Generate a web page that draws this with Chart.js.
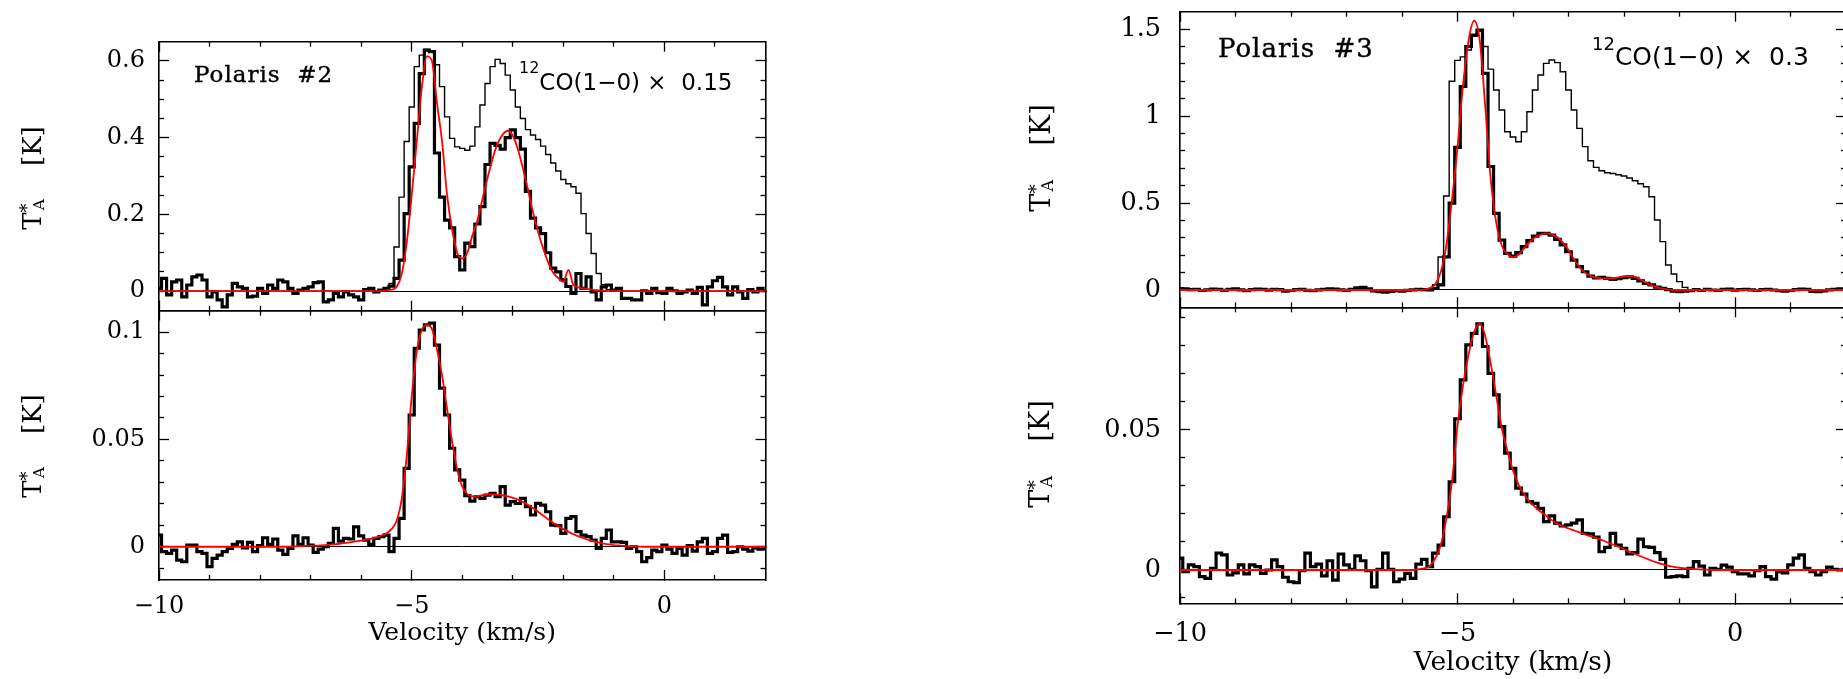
<!DOCTYPE html>
<html>
<head>
<meta charset="utf-8">
<title>Polaris spectra</title>
<script src="https://cdn.jsdelivr.net/npm/chart.js@4.4.1/dist/chart.umd.min.js"></script>
<style>
  html, body { margin: 0; padding: 0; background: #ffffff; overflow: hidden; }
  #page { position: relative; width: 1843px; height: 679px; overflow: hidden; }
  #page canvas { position: absolute; left: 0; top: 0; }
  .note { position: absolute; white-space: pre; line-height: 1; color: #000; }
  .serif { font-family: 'DejaVu Serif', serif; -webkit-text-stroke: 0.4px #000; }
  .sans { font-family: 'DejaVu Sans', sans-serif; }
  .iso { position: relative; }
  .ytitle { position: absolute; white-space: pre; line-height: 1; color: #000;
            font-family: 'DejaVu Serif', serif; transform: translate(-50%, -50%) rotate(-90deg); }
  .ytitle .star { position: relative; top: -0.42em; font-size: 0.7em; }
  .ytitle .sub { position: relative; top: 0.2em; font-size: 0.6em; margin-left: -0.45em; }
</style>
</head>
<body>
<div id="page">
  <canvas id="p2top" width="1850" height="679"></canvas>
  <canvas id="p2low" width="1850" height="679"></canvas>
  <canvas id="p3top" width="1850" height="679"></canvas>
  <canvas id="p3low" width="1850" height="679"></canvas>

  <div class="note serif" style="left:194px;top:63px;font-size:23px;letter-spacing:1px">Polaris  #2</div>
  <div class="note sans" style="left:519px;top:70.5px;font-size:23px"><span class="iso" style="font-size:16px;top:-16.5px">12</span>CO(1−0) ×  0.15</div>
  <div class="note serif" style="left:1218px;top:34.7px;font-size:26px;letter-spacing:1px">Polaris  #3</div>
  <div class="note sans" style="left:1592px;top:43.9px;font-size:25px"><span class="iso" style="font-size:18px;top:-15px">12</span>CO(1−0) ×  0.3</div>

  <div class="ytitle" style="left:32px;top:178px;font-size:26px">T<span class="star">*</span><span class="sub">A</span>    [K]</div>
  <div class="ytitle" style="left:32px;top:446px;font-size:26px">T<span class="star">*</span><span class="sub">A</span>    [K]</div>
  <div class="ytitle" style="left:1040px;top:158px;font-size:27px">T<span class="star">*</span><span class="sub">A</span>    [K]</div>
  <div class="ytitle" style="left:1039px;top:454px;font-size:27px">T<span class="star">*</span><span class="sub">A</span>    [K]</div>
</div>

<script>
// channel velocities (km/s)
const velocity = [
  -10.0, -9.9, -9.8, -9.7, -9.6, -9.5, -9.4, -9.3, -9.2, -9.1,
  -9.0, -8.9, -8.8, -8.7, -8.6, -8.5, -8.4, -8.3, -8.2, -8.1,
  -8.0, -7.9, -7.8, -7.7, -7.6, -7.5, -7.4, -7.3, -7.2, -7.1,
  -7.0, -6.9, -6.8, -6.7, -6.6, -6.5, -6.4, -6.3, -6.2, -6.1,
  -6.0, -5.9, -5.8, -5.7, -5.6, -5.5, -5.4, -5.3, -5.2, -5.1,
  -5.0, -4.9, -4.8, -4.7, -4.6, -4.5, -4.4, -4.3, -4.2, -4.1,
  -4.0, -3.9, -3.8, -3.7, -3.6, -3.5, -3.4, -3.3, -3.2, -3.1,
  -3.0, -2.9, -2.8, -2.7, -2.6, -2.5, -2.4, -2.3, -2.2, -2.1,
  -2.0, -1.9, -1.8, -1.7, -1.6, -1.5, -1.4, -1.3, -1.2, -1.1,
  -1.0, -0.9, -0.8, -0.7, -0.6, -0.5, -0.4, -0.3, -0.2, -0.1,
  0.0, 0.1, 0.2, 0.3, 0.4, 0.5, 0.6, 0.7, 0.8, 0.9,
  1.0, 1.1, 1.2, 1.3, 1.4, 1.5, 1.6, 1.7, 1.8, 1.9,
  2.0
];

// Polaris #2, upper panel
const p2Line = [
  0.007, 0.033, -0.010, 0.024, 0.029, -0.015, 0.016, 0.037, 0.042, 0.029,
  -0.015, -0.002, -0.023, -0.041, -0.010, 0.020, 0.011, 0.007, -0.015, -0.013,
  0.007, -0.006, 0.016, 0.007, 0.029, 0.024, 0.007, -0.006, 0.003, 0.007,
  0.011, 0.022, 0.024, -0.028, -0.023, -0.006, -0.015, -0.002, -0.010, -0.015,
  -0.023, 0.004, 0.007, -0.002, 0.003, 0.007, 0.013, 0.033, 0.081, 0.202,
  0.324, 0.437, 0.567, 0.628, 0.624, 0.360, 0.245, 0.185, 0.165, 0.090,
  0.055, 0.125, 0.116, 0.175, 0.220, 0.330, 0.385, 0.380, 0.370, 0.400,
  0.420, 0.400, 0.370, 0.260, 0.190, 0.165, 0.150, 0.100, 0.060, 0.050,
  0.030, 0.012, -0.006, 0.046, 0.007, 0.037, -0.002, -0.023, 0.011, 0.016,
  0.003, 0.007, -0.019, -0.019, -0.023, -0.023, 0.001, -0.006, 0.007, -0.004,
  -0.006, 0.007, 0.001, -0.006, -0.002, 0.003, -0.006, 0.010, -0.036, 0.011,
  0.027, 0.036, 0.011, -0.010, 0.011, -0.002, -0.019, 0.004, -0.002, 0.007,
  0.001
];
const p2Co = [
  0, 0, 0, 0, 0, 0, 0, 0, 0, 0,
  0, 0, 0, 0, 0, 0, 0, 0, 0, 0,
  0, 0, 0, 0, 0, 0, 0, 0, 0, 0,
  0, 0, 0, 0, 0, 0, 0, 0, 0, 0,
  0, 0, 0, 0, 0, 0.007, 0.020, 0.115, 0.245, 0.390,
  0.480, 0.585, 0.615, 0.630, 0.625, 0.590, 0.533, 0.454, 0.398, 0.376,
  0.372, 0.367, 0.378, 0.428, 0.485, 0.541, 0.585, 0.604, 0.593, 0.563,
  0.524, 0.480, 0.450, 0.421, 0.407, 0.395, 0.378, 0.356, 0.334, 0.313,
  0.291, 0.280, 0.272, 0.255, 0.202, 0.150, 0.098, 0.046, 0.017, 0.004,
  0, 0, 0, 0, 0, 0, 0, 0, 0, 0,
  0, 0, 0, 0, 0, 0, 0, 0, 0, 0,
  0, 0, 0, 0, 0, 0, 0, 0, 0, 0,
  0
];
const p2Fit = [
  0, 0, 0, 0, 0, 0, 0, 0, 0, 0,
  0, 0, 0, 0, 0, 0, 0, 0, 0, 0,
  0, 0, 0, 0, 0, 0, 0, 0, 0, 0,
  0, 0, 0, 0, 0, 0, 0, 0, 0, 0,
  0, 0, 0, 0, 0, 0.002, 0.004, 0.011, 0.043, 0.125,
  0.250, 0.390, 0.530, 0.612, 0.600, 0.490, 0.390, 0.250, 0.160, 0.100,
  0.085, 0.100, 0.145, 0.185, 0.240, 0.295, 0.345, 0.385, 0.408, 0.418,
  0.405, 0.370, 0.320, 0.265, 0.205, 0.155, 0.112, 0.075, 0.048, 0.034,
  0.024, 0.055, 0.016, 0.010, 0.007, 0.005, 0.003, 0.002, 0.001, 0,
  0, 0, 0, 0, 0, 0, 0, 0, 0, 0,
  0, 0, 0, 0, 0, 0, 0, 0, 0, 0,
  0, 0, 0, 0, 0, 0, 0, 0, 0, 0,
  0
];

// Polaris #2, lower panel
const p2Low = [
  0.0054, -0.0023, -0.0031, -0.0016, -0.0062, -0.0070, 0.0008, 0.0008, -0.0023, -0.0031,
  -0.0093, -0.0054, -0.0039, -0.0023, -0.0008, 0.0011, 0.0023, -0.0005, 0.0020, -0.0023,
  0.0005, 0.0042, 0.0011, 0.0036, -0.0016, -0.0036, -0.0008, 0.0051, 0.0011, 0.0042,
  0.0008, -0.0026, -0.0011, 0.0000, 0.0016, 0.0086, 0.0026, 0.0039, 0.0036, 0.0093,
  0.0051, 0.0031, 0.0011, 0.0039, 0.0047, 0.0054, -0.0023, 0.0039, 0.0132, 0.0365,
  0.0614, 0.0925, 0.1010, 0.1034, 0.1042, 0.0940, 0.0739, 0.0614, 0.0459, 0.0358,
  0.0310, 0.0238, 0.0213, 0.0233, 0.0225, 0.0241, 0.0249, 0.0233, 0.0280, 0.0194,
  0.0210, 0.0202, 0.0225, 0.0187, 0.0148, 0.0202, 0.0194, 0.0163, 0.0101, 0.0098,
  0.0062, 0.0132, 0.0140, 0.0070, 0.0054, 0.0047, 0.0031, -0.0008, 0.0039, 0.0078,
  0.0023, 0.0023, 0.0020, -0.0008, 0.0000, -0.0023, -0.0070, -0.0051, -0.0016, -0.0023,
  0.0008, -0.0011, -0.0031, -0.0008, -0.0039, 0.0005, -0.0020, 0.0023, 0.0039, -0.0031,
  -0.0023, 0.0039, 0.0054, -0.0026, -0.0023, 0.0000, -0.0011, -0.0020, -0.0005, -0.0011,
  -0.0008
];
const p2LowFit = [
  0, 0, 0, 0, 0, 0, 0, 0, 0, 0,
  0, 0, 0, 0, 0, 0, 0, 0, 0, 0,
  0, 0, 0, 0, 0, 0, 0.0001, 0.0002, 0.0003, 0.0004,
  0.0005, 0.0005, 0.0006, 0.0008, 0.0010, 0.0012, 0.0015, 0.0018, 0.0021, 0.0025,
  0.0029, 0.0033, 0.0038, 0.0044, 0.0052, 0.0063, 0.0082, 0.0120, 0.0220, 0.0420,
  0.0700, 0.0910, 0.1010, 0.1034, 0.1015, 0.0920, 0.0800, 0.0640, 0.0490, 0.0360,
  0.0280, 0.0245, 0.0235, 0.0236, 0.0240, 0.0243, 0.0244, 0.0243, 0.0240, 0.0235,
  0.0228, 0.0220, 0.0208, 0.0195, 0.0180, 0.0163, 0.0146, 0.0128, 0.0111, 0.0096,
  0.0082, 0.0070, 0.0058, 0.0048, 0.0040, 0.0032, 0.0025, 0.0020, 0.0015, 0.0011,
  0.0008, 0.0006, 0.0004, 0.0003, 0.0002, 0.0001, 0, 0, 0, 0,
  0, 0, 0, 0, 0, 0, 0, 0, 0, 0,
  0, 0, 0, 0, 0, 0, 0, 0, 0, 0,
  0
];

// Polaris #3, upper panel
const p3Line = [
  0.008, 0.006, 0.002, 0.004, -0.003, 0.001, 0.005, 0.003, -0.002, 0.004,
  0.006, 0.001, -0.004, 0.002, 0.005, 0.003, -0.001, 0.004, 0.002, -0.006,
  -0.003, 0.002, 0.004, -0.002, -0.004, 0.001, 0.003, 0.007, 0.005, 0.001,
  -0.002, 0.004, 0.012, 0.015, 0.006, -0.005, -0.010, -0.012, -0.008, -0.004,
  -0.006, -0.002, 0.001, 0.003, 0.002, 0.001, 0.010, 0.029, 0.190, 0.500,
  0.820, 1.170, 1.400, 1.465, 1.494, 1.245, 0.710, 0.440, 0.287, 0.210,
  0.195, 0.215, 0.249, 0.284, 0.310, 0.326, 0.326, 0.316, 0.291, 0.259,
  0.220, 0.172, 0.134, 0.105, 0.080, 0.069, 0.073, 0.067, 0.061, 0.065,
  0.071, 0.075, 0.067, 0.052, 0.038, 0.029, 0.017, 0.010, 0.002, -0.006,
  -0.010, -0.006, -0.004, 0.002, -0.003, 0.004, 0.000, -0.002, 0.003, 0.005,
  -0.001, 0.002, 0.004, 0.001, -0.003, 0.002, 0.004, 0.000, -0.004, -0.006,
  -0.003, 0.002, 0.005, 0.003, -0.008, -0.010, -0.005, 0.001, 0.004, 0.006,
  0.003
];
const p3Co = [
  0, 0, 0, 0, 0, 0, 0, 0, 0, 0,
  0, 0, 0, 0, 0, 0, 0, 0, 0, 0,
  0, 0, 0, 0, 0, 0, 0, 0, 0, 0,
  0, 0, 0, 0, 0, 0, 0, 0, 0, 0,
  0, 0, 0, 0, 0, 0.004, 0.030, 0.190, 0.540, 1.200,
  1.320, 1.340, 1.380, 1.460, 1.490, 1.400, 1.270, 1.150, 1.035, 0.910,
  0.880, 0.852, 0.910, 1.025, 1.150, 1.236, 1.303, 1.322, 1.307, 1.255,
  1.150, 1.035, 0.929, 0.824, 0.743, 0.705, 0.686, 0.674, 0.670, 0.663,
  0.655, 0.644, 0.628, 0.611, 0.594, 0.536, 0.402, 0.278, 0.144, 0.092,
  0.048, 0.015, 0, 0, 0, 0, 0, 0, 0, 0,
  0, 0, 0, 0, 0, 0, 0, 0, 0, 0,
  0, 0, 0, 0, 0, 0, 0, 0, 0, 0,
  0
];
const p3Fit = [
  0, 0, 0, 0, 0, 0, 0, 0, 0, 0,
  0, 0, 0, 0, 0, 0, 0, 0, 0, 0,
  0, 0, 0, 0, 0, 0, 0, 0, 0, 0,
  0, 0, 0, 0, 0, 0, 0, 0, 0, 0,
  0, 0, 0, 0, 0.002, 0.011, 0.034, 0.105, 0.260, 0.517,
  0.820, 1.180, 1.437, 1.548, 1.437, 1.054, 0.632, 0.383, 0.253, 0.207,
  0.188, 0.203, 0.240, 0.276, 0.303, 0.318, 0.326, 0.320, 0.303, 0.272,
  0.230, 0.176, 0.130, 0.100, 0.080, 0.071, 0.067, 0.067, 0.069, 0.073,
  0.079, 0.080, 0.075, 0.059, 0.042, 0.027, 0.015, 0.008, 0.002, 0,
  0, 0, 0, 0, 0, 0, 0, 0, 0, 0,
  0, 0, 0, 0, 0, 0, 0, 0, 0, 0,
  0, 0, 0, 0, 0, 0, 0, 0, 0, 0,
  0
];

// Polaris #3, lower panel
const p3Low = [
  0.0042, -0.0006, 0.0018, 0.0012, -0.0024, -0.0030, 0.0006, 0.0060, 0.0054, -0.0018,
  -0.0010, 0.0018, -0.0014, 0.0018, 0.0012, -0.0012, 0.0000, 0.0036, 0.0012, -0.0026,
  -0.0042, -0.0045, -0.0002, 0.0060, 0.0012, 0.0021, -0.0021, 0.0033, -0.0036, 0.0057,
  0.0018, 0.0002, 0.0050, 0.0033, -0.0002, -0.0060, 0.0002, 0.0060, 0.0002, -0.0042,
  -0.0033, -0.0012, -0.0030, 0.0021, 0.0038, 0.0012, 0.0060, 0.0089, 0.0190, 0.0315,
  0.0540, 0.0679, 0.0804, 0.0845, 0.0879, 0.0798, 0.0702, 0.0625, 0.0512, 0.0417,
  0.0363, 0.0292, 0.0271, 0.0244, 0.0238, 0.0220, 0.0173, 0.0193, 0.0167, 0.0157,
  0.0161, 0.0167, 0.0179, 0.0131, 0.0129, 0.0117, 0.0065, 0.0081, 0.0131, 0.0089,
  0.0077, 0.0057, 0.0062, 0.0110, 0.0083, 0.0081, 0.0062, 0.0038, -0.0026, -0.0024,
  -0.0021, -0.0024, 0.0006, 0.0030, 0.0014, -0.0018, 0.0006, 0.0002, 0.0017, 0.0010,
  -0.0006, -0.0014, -0.0014, -0.0021, -0.0002, 0.0012, -0.0024, -0.0033, -0.0006, -0.0010,
  0.0018, 0.0042, 0.0054, 0.0006, -0.0006, -0.0018, -0.0006, 0.0010, 0.0002, 0.0000,
  0.0002
];
const p3LowFit = [
  0, 0, 0, 0, 0, 0, 0, 0, 0, 0,
  0, 0, 0, 0, 0, 0, 0, 0, 0, 0,
  0, 0, 0, 0, 0, 0, 0, 0, 0, 0,
  0, 0, 0, 0, 0, 0, 0, 0, 0, 0,
  0, 0, 0, 0.0003, 0.0006, 0.0014, 0.0042, 0.0090, 0.0185, 0.0315,
  0.0515, 0.0660, 0.0770, 0.0850, 0.0880, 0.0835, 0.0735, 0.0620, 0.0505, 0.0425,
  0.0355, 0.0305, 0.0270, 0.0243, 0.0225, 0.0208, 0.0193, 0.0178, 0.0165, 0.0156,
  0.0148, 0.0141, 0.0134, 0.0127, 0.0120, 0.0114, 0.0107, 0.0099, 0.0091, 0.0083,
  0.0074, 0.0066, 0.0057, 0.0049, 0.0041, 0.0033, 0.0026, 0.0020, 0.0015, 0.0011,
  0.0008, 0.0006, 0.0004, 0.0003, 0.0002, 0.0001, 0, 0, 0, 0,
  0, 0, 0, 0, 0, 0, 0, 0, 0, 0,
  0, 0, 0, 0, 0, 0, 0, 0, 0, 0,
  0
];

// axes
const xRange = [-10, 2];
const xMajor = [-10, -5, 0];
const xMinor = [-9, -8, -7, -6, -4, -3, -2, -1, 1];
const xTitle = 'Velocity (km/s)';

const p2TopRange = [-0.051, 0.65];
const p2TopMajor = [0, 0.2, 0.4, 0.6];
const p2TopMinor = [0.05, 0.1, 0.15, 0.25, 0.3, 0.35, 0.45, 0.5, 0.55];
const p2LowRange = [-0.0155, 0.11];
const p2LowMajor = [0, 0.05, 0.1];
const p2LowMinor = [-0.01, 0.01, 0.02, 0.03, 0.04, 0.06, 0.07, 0.08, 0.09];
const p3TopRange = [-0.0995, 1.6];
const p3TopMajor = [0, 0.5, 1, 1.5];
const p3TopMinor = [0.1, 0.2, 0.3, 0.4, 0.6, 0.7, 0.8, 0.9, 1.1, 1.2, 1.3, 1.4];
const p3LowRange = [-0.0119, 0.0938];
const p3LowMajor = [0, 0.05];
const p3LowMinor = [-0.01, 0.01, 0.02, 0.03, 0.04, 0.06, 0.07, 0.08, 0.09];

Chart.defaults.font.family = "'DejaVu Serif', serif";
Chart.defaults.color = '#000';

function series(values) {
  return velocity.map(function (v, i) { return { x: v, y: values[i] }; });
}

function tickText(value) {
  return String(Number(value.toFixed(3))).replace('-', '\u2212');
}

function fixedTicks(list) {
  return function (axis) {
    axis.ticks = list.map(function (v) { return { value: v }; });
  };
}

// fixed axis size, no extra room asked for label overflow
function fixSize(s, w, h) {
  if (w !== null) s.width = w;
  if (h !== null) s.height = h;
  s.paddingTop = 0; s.paddingBottom = 0; s.paddingLeft = 0; s.paddingRight = 0;
}

function drawPanel(id, box, p) {
  var canvasW = 1850, canvasH = 679, yAxisW = 100;
  var xAxisH = p.labelled ? p.xHeight : 0;
  var font = { family: "'DejaVu Serif', serif", size: p.fontSize, lineHeight: 1.2 };
  var titleFont = { family: "'DejaVu Serif', serif", size: p.titleSize || p.fontSize, lineHeight: 1.2 };
  var frame = { display: true, color: '#000', width: 1.6 };

  // inward tick marks (negative length)
  function marks(len) {
    return { drawOnChartArea: false, drawTicks: true, tickLength: -len, tickColor: '#000', tickWidth: 1.3 };
  }
  function side(position, weight, range, list, len, showFrame) {
    var horizontal = position === 'top' || position === 'bottom';
    return {
      type: 'linear', position: position, weight: weight, min: range[0], max: range[1],
      afterBuildTicks: fixedTicks(list),
      afterFit: function (s) { if (horizontal) fixSize(s, null, 0); else fixSize(s, 0, null); },
      grid: marks(len),
      border: showFrame ? frame : { display: false },
      ticks: { display: false, autoSkip: false }
    };
  }

  var scales = {
    x: {
      type: 'linear', position: 'bottom', weight: 1, min: xRange[0], max: xRange[1],
      afterBuildTicks: fixedTicks(xMajor),
      afterFit: function (s) { fixSize(s, null, xAxisH); },
      grid: marks(10),
      border: frame,
      ticks: { display: p.labelled, autoSkip: false, maxRotation: 0, padding: p.xPad, color: '#000', font: font, callback: tickText },
      title: { display: p.labelled, text: xTitle, color: '#000', font: titleFont, padding: 0 }
    },
    xMinor: side('bottom', 0, xRange, xMinor, 5, false),
    xTop: side('top', 1, xRange, xMajor, 10, true),
    xTopMinor: side('top', 0, xRange, xMinor, 5, false),
    y: {
      type: 'linear', position: 'left', weight: 1, min: p.yRange[0], max: p.yRange[1],
      afterBuildTicks: fixedTicks(p.yMajor),
      afterFit: function (s) { fixSize(s, yAxisW, null); },
      grid: {
        drawOnChartArea: true, drawTicks: true, tickLength: -10, tickColor: '#000', tickWidth: 1.3,
        lineWidth: 1,
        color: function (c) { return c.tick && c.tick.value === 0 ? '#000' : 'rgba(0,0,0,0)'; }
      },
      border: frame,
      ticks: { autoSkip: false, padding: p.yPad, color: '#000', font: font, callback: tickText }
    },
    yMinor: side('left', 0, p.yRange, p.yMinor, 5, false),
    yRight: side('right', 0, p.yRange, p.yMajor, 10, true),
    yRightMinor: side('right', 1, p.yRange, p.yMinor, 5, false)
  };

  var datasets = [
    { data: series(p.fit), borderColor: '#ff0000', borderWidth: 1.8, cubicInterpolationMode: 'monotone', order: 0 },
    { data: series(p.line), borderColor: '#000', borderWidth: 3.2, stepped: 'middle', order: 1 }
  ];
  if (p.co) {
    datasets.push({ data: series(p.co), borderColor: '#000', borderWidth: 1.4, stepped: 'middle', order: 2 });
  }
  datasets.forEach(function (d) { d.xAxisID = 'x'; d.yAxisID = 'y'; d.pointRadius = 0; d.fill = false; });

  return new Chart(document.getElementById(id), {
    type: 'line',
    data: { datasets: datasets },
    options: {
      responsive: false,
      animation: false,
      devicePixelRatio: 1,
      events: [],
      layout: {
        autoPadding: false,
        padding: {
          left: box.left - yAxisW,
          right: canvasW - box.right,
          top: box.top,
          bottom: canvasH - box.bottom - xAxisH
        }
      },
      plugins: { legend: { display: false }, tooltip: { enabled: false } },
      scales: scales
    }
  });
}

drawPanel('p2top', { left: 159, right: 765.5, top: 41.7, bottom: 310.7 }, {
  line: p2Line, co: p2Co, fit: p2Fit,
  yRange: p2TopRange, yMajor: p2TopMajor, yMinor: p2TopMinor,
  fontSize: 24, yPad: 24, labelled: false
});
drawPanel('p2low', { left: 159, right: 765.5, top: 310.7, bottom: 580 }, {
  line: p2Low, fit: p2LowFit,
  yRange: p2LowRange, yMajor: p2LowMajor, yMinor: p2LowMinor,
  fontSize: 24, titleSize: 25, yPad: 24, labelled: true, xPad: 22.6, xHeight: 68
});
drawPanel('p3top', { left: 1180, right: 1846, top: 11.7, bottom: 307.3 }, {
  line: p3Line, co: p3Co, fit: p3Fit,
  yRange: p3TopRange, yMajor: p3TopMajor, yMinor: p3TopMinor,
  fontSize: 25.5, yPad: 29, labelled: false
});
drawPanel('p3low', { left: 1180, right: 1846, top: 307.3, bottom: 603.3 }, {
  line: p3Low, fit: p3LowFit,
  yRange: p3LowRange, yMajor: p3LowMajor, yMinor: p3LowMinor,
  fontSize: 25.5, titleSize: 26.5, yPad: 29, labelled: true, xPad: 25.4, xHeight: 75.6
});
</script>
</body>
</html>
